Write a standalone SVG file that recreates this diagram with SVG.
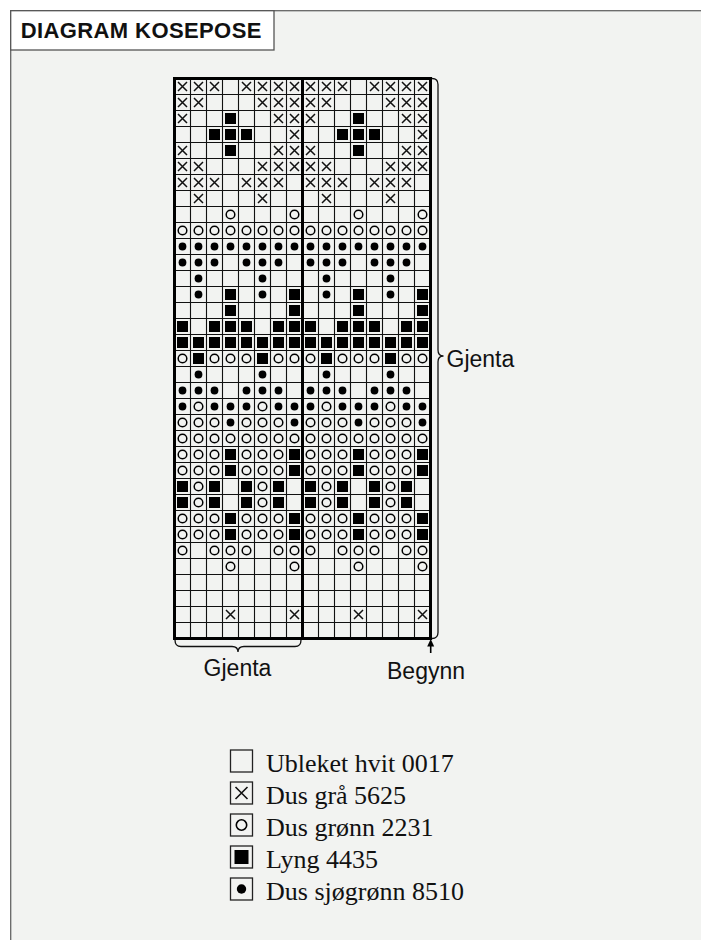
<svg xmlns="http://www.w3.org/2000/svg" width="701" height="940" viewBox="0 0 701 940">
<style>
.thin{stroke:#111;stroke-width:1.1;fill:none}
.thick{stroke:#000;stroke-width:3;fill:none}
.lbl{font-family:"Liberation Sans",Arial,sans-serif;font-size:23px;fill:#111}
.leg{font-family:"Liberation Serif","Times New Roman",serif;font-size:26px;fill:#111}
.lbox{fill:none;stroke:#222;stroke-width:1.3}
.brace{fill:none;stroke:#111;stroke-width:1.3}
</style>
<defs>
<path id="x" d="M3.5,3.5L12.5,12.5M12.5,3.5L3.5,12.5" stroke="#111" stroke-width="1.5" fill="none"/>
<rect id="s" x="2.5" y="2.5" width="11" height="11" fill="#000"/>
<circle id="o" cx="8" cy="8" r="4.3" fill="none" stroke="#000" stroke-width="1.5"/>
<circle id="d" cx="8" cy="8" r="3.9" fill="#000"/>
</defs>
<rect x="0" y="0" width="701" height="940" fill="#fff"/>
<rect id="frame" x="10.7" y="10.7" width="720" height="960" fill="#f2f3f1" stroke="#666" stroke-width="1.3"/>
<g id="title">
<rect x="10.7" y="10.7" width="263.3" height="39.3" fill="#fff" stroke="#555" stroke-width="1.3"/>
<text x="20.7" y="38.3" font-family="'Liberation Sans',Arial,sans-serif" font-weight="bold" font-size="22" letter-spacing="0.4" fill="#111">DIAGRAM KOSEPOSE</text>
</g>
<g id="chart" transform="translate(174.5,78.5)">
<g id="rep">
<use href="#x" x="0" y="0"/><use href="#x" x="16" y="0"/><use href="#x" x="32" y="0"/><use href="#x" x="64" y="0"/><use href="#x" x="80" y="0"/><use href="#x" x="96" y="0"/><use href="#x" x="112" y="0"/>
<use href="#x" x="0" y="16"/><use href="#x" x="16" y="16"/><use href="#x" x="80" y="16"/><use href="#x" x="96" y="16"/><use href="#x" x="112" y="16"/>
<use href="#x" x="0" y="32"/><use href="#s" x="48" y="32"/><use href="#x" x="96" y="32"/><use href="#x" x="112" y="32"/>
<use href="#s" x="32" y="48"/><use href="#s" x="48" y="48"/><use href="#s" x="64" y="48"/><use href="#x" x="112" y="48"/>
<use href="#x" x="0" y="64"/><use href="#s" x="48" y="64"/><use href="#x" x="96" y="64"/><use href="#x" x="112" y="64"/>
<use href="#x" x="0" y="80"/><use href="#x" x="16" y="80"/><use href="#x" x="80" y="80"/><use href="#x" x="96" y="80"/><use href="#x" x="112" y="80"/>
<use href="#x" x="0" y="96"/><use href="#x" x="16" y="96"/><use href="#x" x="32" y="96"/><use href="#x" x="64" y="96"/><use href="#x" x="80" y="96"/><use href="#x" x="96" y="96"/>
<use href="#x" x="16" y="112"/><use href="#x" x="80" y="112"/>
<use href="#o" x="48" y="128"/><use href="#o" x="112" y="128"/>
<use href="#o" x="0" y="144"/><use href="#o" x="16" y="144"/><use href="#o" x="32" y="144"/><use href="#o" x="48" y="144"/><use href="#o" x="64" y="144"/><use href="#o" x="80" y="144"/><use href="#o" x="96" y="144"/><use href="#o" x="112" y="144"/>
<use href="#d" x="0" y="160"/><use href="#d" x="16" y="160"/><use href="#d" x="32" y="160"/><use href="#d" x="48" y="160"/><use href="#d" x="64" y="160"/><use href="#d" x="80" y="160"/><use href="#d" x="96" y="160"/><use href="#d" x="112" y="160"/>
<use href="#d" x="0" y="176"/><use href="#d" x="16" y="176"/><use href="#d" x="32" y="176"/><use href="#d" x="64" y="176"/><use href="#d" x="80" y="176"/><use href="#d" x="96" y="176"/>
<use href="#d" x="16" y="192"/><use href="#d" x="80" y="192"/>
<use href="#d" x="16" y="208"/><use href="#s" x="48" y="208"/><use href="#d" x="80" y="208"/><use href="#s" x="112" y="208"/>
<use href="#s" x="48" y="224"/><use href="#s" x="112" y="224"/>
<use href="#s" x="0" y="240"/><use href="#s" x="32" y="240"/><use href="#s" x="48" y="240"/><use href="#s" x="64" y="240"/><use href="#s" x="96" y="240"/><use href="#s" x="112" y="240"/>
<use href="#s" x="0" y="256"/><use href="#s" x="16" y="256"/><use href="#s" x="32" y="256"/><use href="#s" x="48" y="256"/><use href="#s" x="64" y="256"/><use href="#s" x="80" y="256"/><use href="#s" x="96" y="256"/><use href="#s" x="112" y="256"/>
<use href="#o" x="0" y="272"/><use href="#s" x="16" y="272"/><use href="#o" x="32" y="272"/><use href="#o" x="48" y="272"/><use href="#o" x="64" y="272"/><use href="#s" x="80" y="272"/><use href="#o" x="96" y="272"/><use href="#o" x="112" y="272"/>
<use href="#d" x="16" y="288"/><use href="#d" x="80" y="288"/>
<use href="#d" x="0" y="304"/><use href="#d" x="16" y="304"/><use href="#d" x="32" y="304"/><use href="#d" x="64" y="304"/><use href="#d" x="80" y="304"/><use href="#d" x="96" y="304"/>
<use href="#d" x="0" y="320"/><use href="#o" x="16" y="320"/><use href="#d" x="32" y="320"/><use href="#d" x="48" y="320"/><use href="#d" x="64" y="320"/><use href="#o" x="80" y="320"/><use href="#d" x="96" y="320"/><use href="#d" x="112" y="320"/>
<use href="#o" x="0" y="336"/><use href="#o" x="16" y="336"/><use href="#o" x="32" y="336"/><use href="#d" x="48" y="336"/><use href="#o" x="64" y="336"/><use href="#o" x="80" y="336"/><use href="#o" x="96" y="336"/><use href="#d" x="112" y="336"/>
<use href="#o" x="0" y="352"/><use href="#o" x="16" y="352"/><use href="#o" x="32" y="352"/><use href="#o" x="48" y="352"/><use href="#o" x="64" y="352"/><use href="#o" x="80" y="352"/><use href="#o" x="96" y="352"/><use href="#o" x="112" y="352"/>
<use href="#o" x="0" y="368"/><use href="#o" x="16" y="368"/><use href="#o" x="32" y="368"/><use href="#s" x="48" y="368"/><use href="#o" x="64" y="368"/><use href="#o" x="80" y="368"/><use href="#o" x="96" y="368"/><use href="#s" x="112" y="368"/>
<use href="#o" x="0" y="384"/><use href="#o" x="16" y="384"/><use href="#o" x="32" y="384"/><use href="#s" x="48" y="384"/><use href="#o" x="64" y="384"/><use href="#o" x="80" y="384"/><use href="#o" x="96" y="384"/><use href="#s" x="112" y="384"/>
<use href="#s" x="0" y="400"/><use href="#o" x="16" y="400"/><use href="#s" x="32" y="400"/><use href="#s" x="64" y="400"/><use href="#o" x="80" y="400"/><use href="#s" x="96" y="400"/>
<use href="#s" x="0" y="416"/><use href="#o" x="16" y="416"/><use href="#s" x="32" y="416"/><use href="#s" x="64" y="416"/><use href="#o" x="80" y="416"/><use href="#s" x="96" y="416"/>
<use href="#o" x="0" y="432"/><use href="#o" x="16" y="432"/><use href="#o" x="32" y="432"/><use href="#s" x="48" y="432"/><use href="#o" x="64" y="432"/><use href="#o" x="80" y="432"/><use href="#o" x="96" y="432"/><use href="#s" x="112" y="432"/>
<use href="#o" x="0" y="448"/><use href="#o" x="16" y="448"/><use href="#o" x="32" y="448"/><use href="#s" x="48" y="448"/><use href="#o" x="64" y="448"/><use href="#o" x="80" y="448"/><use href="#o" x="96" y="448"/><use href="#s" x="112" y="448"/>
<use href="#o" x="0" y="464"/><use href="#o" x="32" y="464"/><use href="#o" x="48" y="464"/><use href="#o" x="64" y="464"/><use href="#o" x="96" y="464"/><use href="#o" x="112" y="464"/>
<use href="#o" x="48" y="480"/><use href="#o" x="112" y="480"/>
<use href="#x" x="48" y="528"/><use href="#x" x="112" y="528"/>
</g>
<use href="#rep" x="128" y="0"/>
<path class="thin" d="M16,0V560M32,0V560M48,0V560M64,0V560M80,0V560M96,0V560M112,0V560M144,0V560M160,0V560M176,0V560M192,0V560M208,0V560M224,0V560M240,0V560M0,16H256M0,32H256M0,48H256M0,64H256M0,80H256M0,96H256M0,112H256M0,128H256M0,144H256M0,160H256M0,176H256M0,192H256M0,208H256M0,224H256M0,240H256M0,256H256M0,272H256M0,288H256M0,304H256M0,320H256M0,336H256M0,352H256M0,368H256M0,384H256M0,400H256M0,416H256M0,432H256M0,448H256M0,464H256M0,480H256M0,496H256M0,512H256M0,528H256M0,544H256"/>
<path class="thick" d="M0,0H256V560H0ZM128,0V560"/>
</g>
<g id="connectors">
<path class="brace" d="M432,78.5Q438,78.5 438,84.5L438,350Q438,356 443.5,356Q438,356 438,362L438,632.5Q438,638.5 432,638.5"/>
<path class="brace" d="M175,640Q175,646.5 181,646.5L232,646.5Q238,646.5 238,652Q238,646.5 244,646.5L295,646.5Q301,646.5 301,640"/>
<path d="M430.7,653V645" stroke="#000" stroke-width="1.6"/>
<path d="M430.7,639L427.2,646.5H434.2Z" fill="#000"/>
</g>
<g id="labels">
<text class="lbl" x="446.5" y="367">Gjenta</text>
<text class="lbl" x="237.5" y="676" text-anchor="middle">Gjenta</text>
<text class="lbl" x="387" y="679">Begynn</text>
</g>
<g id="legend">
<rect class="lbox" x="230.5" y="750" width="22" height="22"/>
<text class="leg" x="266" y="772">Ubleket hvit 0017</text>
<rect class="lbox" x="230.5" y="782" width="22" height="22"/>
<path d="M235.5,787L247.5,799M247.5,787L235.5,799" stroke="#111" stroke-width="1.6" fill="none"/>
<text class="leg" x="266" y="804">Dus grå 5625</text>
<rect class="lbox" x="230.5" y="814" width="22" height="22"/>
<circle cx="241.5" cy="825" r="5.2" fill="none" stroke="#000" stroke-width="1.6"/>
<text class="leg" x="266" y="836">Dus grønn 2231</text>
<rect class="lbox" x="230.5" y="846" width="22" height="22"/>
<rect x="234.5" y="850" width="14" height="14" fill="#000"/>
<text class="leg" x="266" y="868">Lyng 4435</text>
<rect class="lbox" x="230.5" y="878" width="22" height="22"/>
<circle cx="241.5" cy="889" r="4.7" fill="#000"/>
<text class="leg" x="266" y="900">Dus sjøgrønn 8510</text>
</g>
</svg>
